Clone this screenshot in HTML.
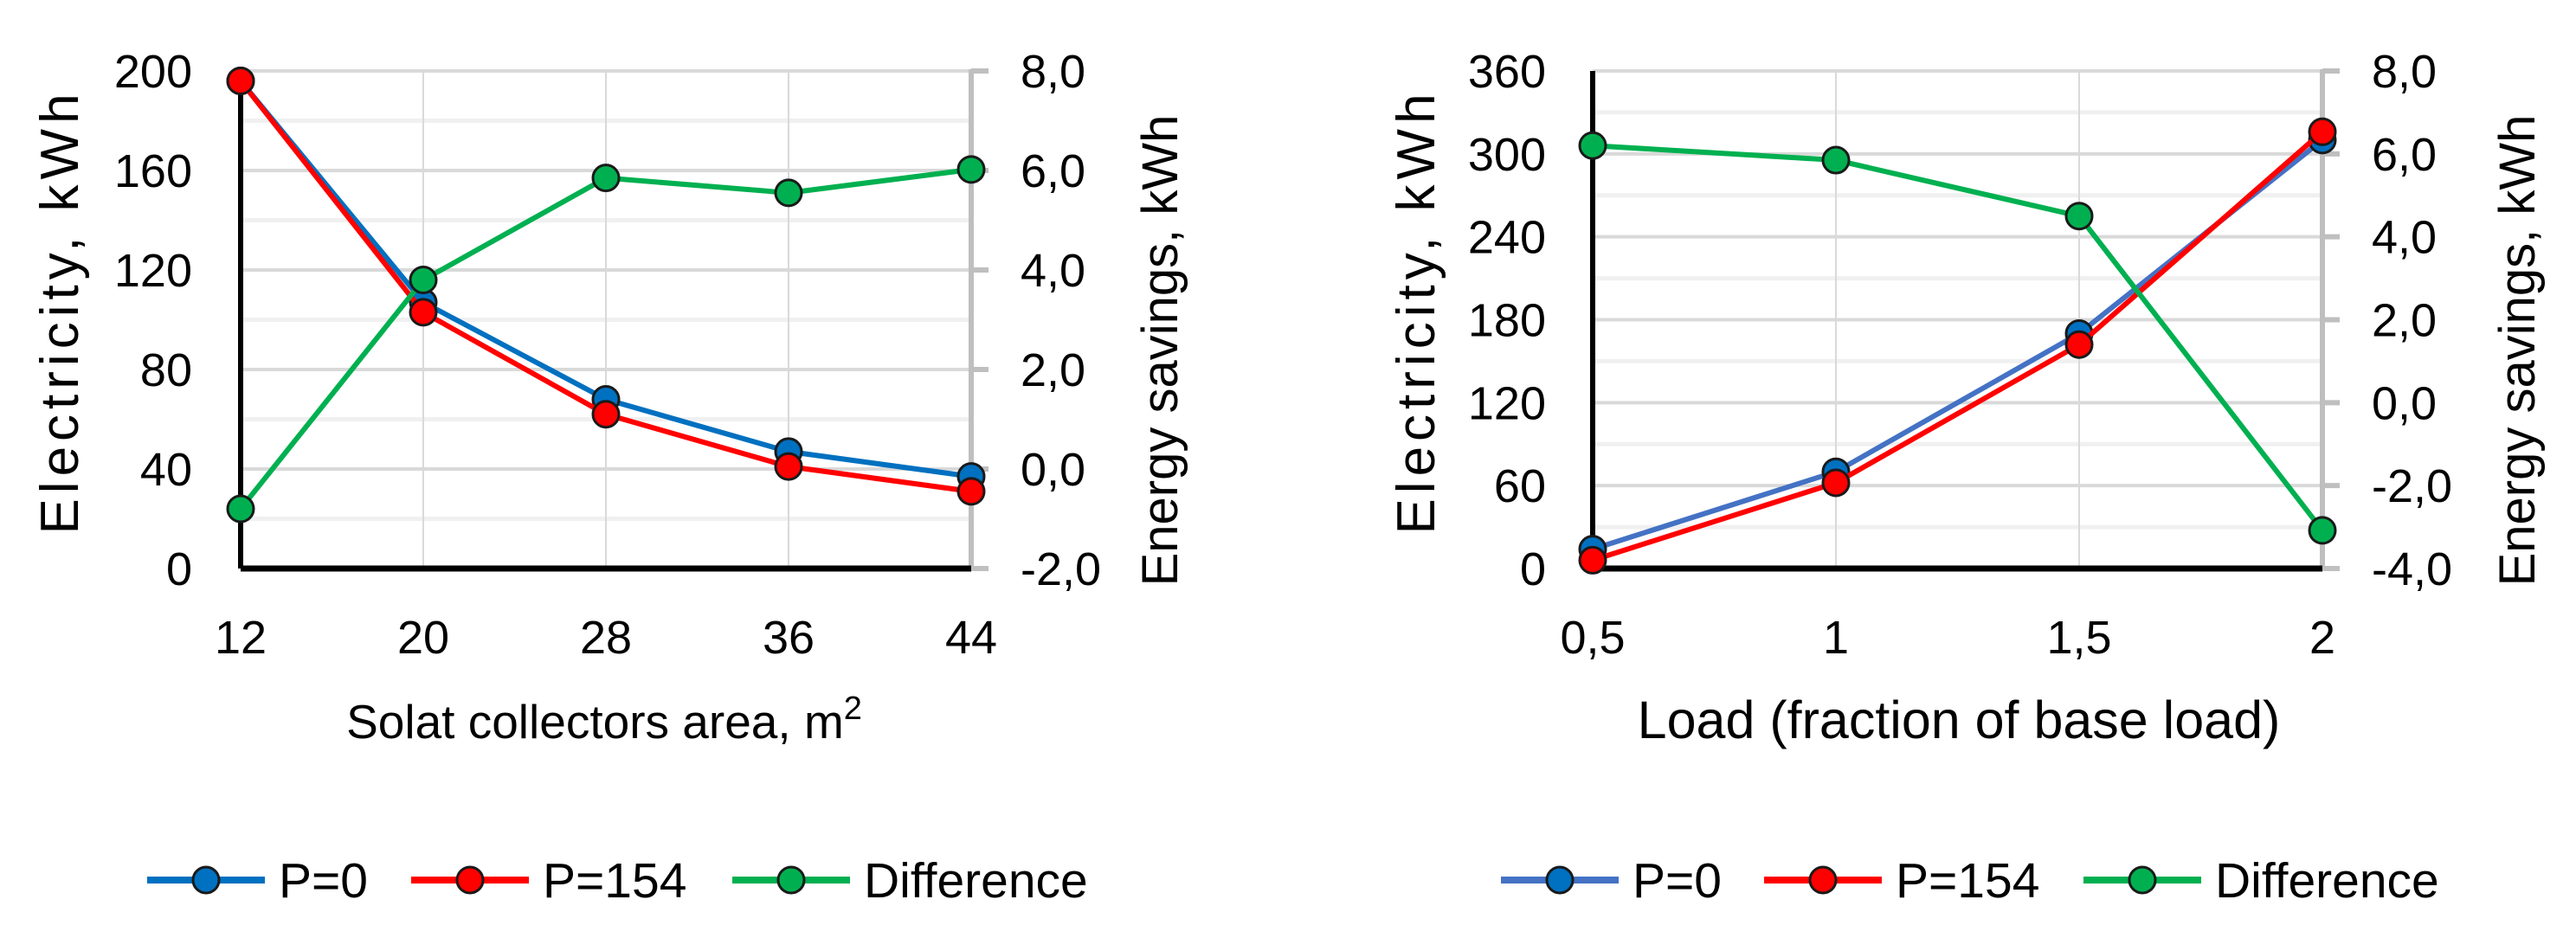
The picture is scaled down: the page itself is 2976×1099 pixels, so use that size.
<!DOCTYPE html>
<html><head><meta charset="utf-8"><style>
html,body{margin:0;padding:0;background:#fff}
svg{display:block}
text{font-family:"Liberation Sans",sans-serif;fill:#000}
</style></head><body>
<svg id="c" width="2976" height="1099" viewBox="0 0 2976 1099" xmlns="http://www.w3.org/2000/svg"></svg>
<script>
// Left chart data
const leftCats = ["12","20","28","36","44"];
const leftP0 = [196, 107, 68, 47, 37];
const leftP154 = [196, 103, 62, 41, 31];
const leftDiff = [-0.8, 3.8, 5.85, 5.55, 6.02];
const leftYTicks = [0,40,80,120,160,200];
const leftY2Ticks = ["-2,0","0,0","2,0","4,0","6,0","8,0"];
// Right chart data
const rightCats = ["0,5","1","1,5","2"];
const rightP0 = [14, 70, 170, 310];
const rightP154 = [6, 62, 162, 316];
const rightDiff = [6.2, 5.85, 4.5, -3.08];
const rightYTicks = [0,60,120,180,240,300,360];
const rightY2Ticks = ["-4,0","-2,0","0,0","2,0","4,0","6,0","8,0"];

const NS="http://www.w3.org/2000/svg";
const svg=document.getElementById('c');
function el(tag,attrs,parent){const e=document.createElementNS(NS,tag);for(const k in attrs)e.setAttribute(k,attrs[k]);(parent||svg).appendChild(e);return e;}

function drawChart(cfg){
  const g=el('g',{});
  
  
  const top=82,bot=657,L=cfg.x0,R=cfg.x1;
  const n=cfg.cats.length;
  const xs=i=>L+(R-L)*i/(n-1);
  const yl=v=>bot-(v-cfg.yMin)/(cfg.yMax-cfg.yMin)*(bot-top);
  const yr=v=>bot-(v-cfg.y2Min)/(cfg.y2Max-cfg.y2Min)*(bot-top);
  const nt=cfg.yTicks.length;
  for(let i=0;i<nt-1;i++){
    const yy=(yl(cfg.yTicks[i])+yl(cfg.yTicks[i+1]))/2;
    const m=el('line',{x1:L,x2:R,y1:yy,y2:yy,stroke:'#f0f0f0','stroke-width':5},g);
    
    
  }
  cfg.yTicks.forEach(v=>{
    const yy=yl(v);
    const gl=el('line',{x1:L,x2:R,y1:yy,y2:yy,stroke:'#d9d9d9','stroke-width':4},g);
    
    
    const t=el('text',{x:cfg.lblRight,y:yy+19,'font-size':54,'text-anchor':'end'},g);
    t.textContent=v;
    
    
  });
  for(let i=1;i<n-1;i++){
    const vg=el('line',{x1:xs(i),x2:xs(i),y1:top,y2:bot,stroke:'#d9d9d9','stroke-width':2},g);
    
    
  }
  const ra=el('line',{x1:R,x2:R,y1:top-2,y2:bot+2,stroke:'#bfbfbf','stroke-width':6},g);
  
  
  cfg.y2Ticks.forEach((lab,i)=>{
    const v=cfg.y2Min+i*(cfg.y2Max-cfg.y2Min)/(cfg.y2Ticks.length-1);
    const yy=yr(v);
    const tk=el('line',{x1:R,x2:R+20,y1:yy,y2:yy,stroke:'#bfbfbf','stroke-width':6},g);
    
    
    const t=el('text',{x:R+57,y:yy+19,'font-size':54},g);
    t.textContent=lab;
    
    
  });
  const la=el('line',{x1:L,x2:L,y1:top,y2:bot,stroke:'#000','stroke-width':6},g);
  
  
  const xa=el('line',{x1:L,x2:R,y1:bot,y2:bot,stroke:'#000','stroke-width':7},g);
  
  
  cfg.cats.forEach((c,i)=>{
    const t=el('text',{x:xs(i),y:755,'font-size':54,'text-anchor':'middle'},g);
    t.textContent=c;
    
    
  });
  const series=[
    {d:cfg.p0,c:cfg.blue,f:yl,name:'series-p0'},
    {d:cfg.p154,c:'#ff0000',f:yl,name:'series-p154'},
    {d:cfg.diff,c:'#00b050',f:yr,name:'series-difference'}
  ];
  series.forEach((s,k)=>{
    const sg=el('g',{},g);
    
    
    const pts=s.d.map((v,i)=>xs(i)+','+s.f(v)).join(' ');
    const pl=el('polyline',{points:pts,fill:'none',stroke:s.c,'stroke-width':6,'stroke-linejoin':'round'},sg);
    
    
    s.d.forEach((v,i)=>{
      const m=el('circle',{cx:xs(i),cy:s.f(v),r:15,fill:k===0?'#0070c0':s.c,stroke:'#1a1a1a','stroke-width':3},sg);
      
      
    });
  });
  const t1=el('text',{transform:`translate(${cfg.ytX},360) rotate(-90)`,'font-size':62,'letter-spacing':6,'text-anchor':'middle'},g);
  t1.textContent='Electricity, kWh';
  
  
  const t2=el('text',{transform:`translate(${cfg.y2tX},405) rotate(-90)`,'font-size':58,'text-anchor':'middle'},g);
  t2.textContent='Energy savings, kWh';
  
  
  const t3=el('text',{x:cfg.xtX,y:853,'font-size':cfg.xtSize,'text-anchor':'middle'},g);
  t3.innerHTML=cfg.xTitle;
  
  
  const lg=el('g',{},g);
  
  
  const ly=1017;
  cfg.legend.forEach((it,k)=>{
    const eg=el('g',{},lg);
    
    
    el('line',{x1:it.x,x2:it.x+136,y1:ly,y2:ly,stroke:series[k].c,'stroke-width':8},eg);
    el('circle',{cx:it.x+68,cy:ly,r:15,fill:k===0?'#0070c0':series[k].c,stroke:'#1a1a1a','stroke-width':3},eg);
    const t=el('text',{x:it.x+152,y:ly+20,'font-size':57},eg);
    t.textContent=it.label;
  });
}

drawChart({name:'left-chart',cats:leftCats,p0:leftP0,p154:leftP154,diff:leftDiff,
  yTicks:leftYTicks,yMin:0,yMax:200,y2Ticks:leftY2Ticks,y2Min:-2,y2Max:8,
  x0:278,x1:1122,lblRight:222,ytX:90,y2tX:1360,xtX:698,xtSize:55,blue:'#0070c0',
  xTitle:'Solat collectors area, m<tspan dy="-22" font-size="38">2</tspan>',
  legend:[{x:170,label:'P=0'},{x:475,label:'P=154'},{x:846,label:'Difference'}]});
drawChart({name:'right-chart',cats:rightCats,p0:rightP0,p154:rightP154,diff:rightDiff,
  yTicks:rightYTicks,yMin:0,yMax:360,y2Ticks:rightY2Ticks,y2Min:-4,y2Max:8,
  x0:1840,x1:2683,lblRight:1786,ytX:1657,y2tX:2928,xtX:2263,xtSize:61,blue:'#4472c4',
  xTitle:'Load (fraction of base load)',
  legend:[{x:1734,label:'P=0'},{x:2038,label:'P=154'},{x:2407,label:'Difference'}]});
</script>
</body></html>
